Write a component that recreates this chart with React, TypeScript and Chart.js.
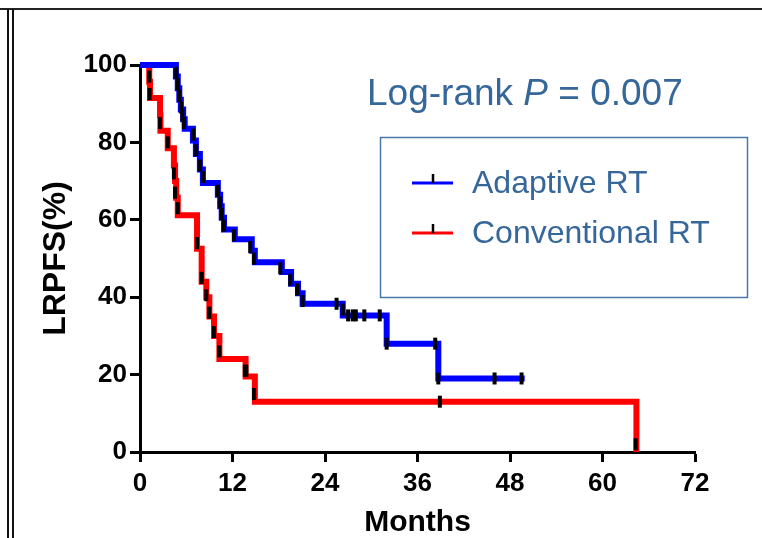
import React, { useEffect, useRef } from 'react';
import { Chart, registerables } from 'chart.js';

Chart.register(...registerables);

// ---- Data ----
const seriesNames = ['Adaptive RT', 'Conventional RT'];
const seriesColors = ['#0000FF', '#FF0000'];

// Kaplan-Meier steps: at each time the curve drops to the given level
const adaptiveTimes = [0, 4.66, 4.9, 5.1, 5.3, 5.6, 5.8, 6.87, 7.25, 7.77, 8.16, 10.1, 10.4, 10.6, 10.9, 12.3, 14.5, 14.9, 18.4, 19.6, 20.5, 21.1, 26.3, 32.0, 38.7, 49.9];
const adaptiveSurv = [100, 97, 94, 91, 88.5, 86, 83.5, 80.5, 77, 73, 69.5, 66.5, 63.5, 60.5, 57.5, 55, 52, 49, 46.5, 43.5, 41, 38.3, 35.3, 28, 19, 19];

const conventionalTimes = [0, 1.2, 1.3, 2.6, 2.65, 3.6, 4.4, 4.55, 4.7, 4.9, 7.4, 8.0, 8.6, 9.0, 9.6, 10.3, 13.7, 14.9, 64.4];
const conventionalSurv = [100, 95.7, 91.5, 87, 83, 78.5, 74, 70, 65.7, 61.2, 52.5, 44, 40, 35, 30, 24, 19.5, 13, 0];

// Tick (censor) marks
const adaptiveTickTimes = [4.7, 4.9, 5.1, 5.35, 5.5, 5.7, 6.9, 7.3, 7.8, 8.2, 10.1, 10.4, 10.6, 10.9, 12.2, 14.3, 14.8, 18.2, 19.5, 20.4, 21.1, 25.5, 26.3, 27.0, 27.6, 28.0, 29.1, 31.1, 32.0, 38.3, 38.7, 46.0, 49.5];
const adaptiveTickSurv = [98, 95, 92, 89, 87, 85, 82, 78, 74, 71, 67.5, 64.5, 61.5, 58.5, 56, 53, 50, 47.5, 44.5, 42, 39, 38.3, 36.8, 35.3, 35.3, 35.3, 35.3, 35.3, 28, 28, 19, 19, 19];

const conventionalTickTimes = [1.2, 1.25, 2.6, 3.6, 4.4, 4.55, 4.9, 7.4, 8.0, 8.6, 9.0, 9.6, 10.3, 13.6, 13.8, 14.8, 38.9, 64.3];
const conventionalTickSurv = [97, 92.5, 85, 80, 72, 67, 63, 54, 45, 40.5, 36, 31, 26, 21, 21, 15, 13, 2];

const xTickStep = 12;
const xMax = 72;
const yTickStep = 20;
const yMax = 100;

const xTitle = 'Months';
const yTitle = 'LRPFS(%)';
const pValueParts = ['Log-rank ', 'P', ' = 0.007'];

const FONT = '"Liberation Sans", Arial, Helvetica, sans-serif';
const TEXT_BLUE = '#35679A';
const BOX_BLUE = '#4A77A6';

const toPoints = (xs: number[], ys: number[]) => xs.map((x, i) => ({ x, y: ys[i] }));

const annotationPlugin = {
  id: 'kmAnnotations',
  afterDraw(chart: any) {
    const ctx = chart.ctx as CanvasRenderingContext2D;
    ctx.save();
    // p-value text
    ctx.fillStyle = TEXT_BLUE;
    ctx.textBaseline = 'alphabetic';
    ctx.textAlign = 'left';
    let x = 367;
    const y = 105;
    pValueParts.forEach((t, i) => {
      ctx.font = (i === 1 ? 'italic ' : '') + '37px ' + FONT;
      ctx.fillText(t, x, y);
      x += ctx.measureText(t).width;
    });

    // legend box
    ctx.strokeStyle = BOX_BLUE;
    ctx.lineWidth = 1.5;
    ctx.strokeRect(380.5, 137.5, 367, 160);

    const rows = [183, 233];
    seriesNames.forEach((name, i) => {
      const ly = rows[i];
      ctx.strokeStyle = seriesColors[i];
      ctx.lineWidth = 3;
      ctx.beginPath();
      ctx.moveTo(412, ly);
      ctx.lineTo(453, ly);
      ctx.stroke();
      ctx.strokeStyle = '#000';
      ctx.lineWidth = 2.5;
      ctx.beginPath();
      ctx.moveTo(433, ly - 9);
      ctx.lineTo(433, ly);
      ctx.stroke();
      ctx.fillStyle = TEXT_BLUE;
      ctx.font = '32px ' + FONT;
      ctx.fillText(name, 472, ly + 10);
    });
    ctx.restore();
  },
};

export default function App() {
  const canvasRef = useRef<HTMLCanvasElement | null>(null);

  useEffect(() => {
    if (!canvasRef.current) return;
    const tickStyle = {
      type: 'scatter',
      pointStyle: 'line',
      rotation: 90,
      radius: 6,
      borderColor: '#000',
      backgroundColor: '#000',
      borderWidth: 4,
      showLine: false,
      order: 0,
      clip: false,
    };
    const lineStyle = {
      borderWidth: 6,
      stepped: 'before',
      pointRadius: 0,
      fill: false,
      borderJoinStyle: 'miter',
      borderCapStyle: 'butt',
      clip: false,
    };
    const chart = new Chart(canvasRef.current, {
      type: 'line',
      data: {
        datasets: [
          { ...tickStyle, label: 'adaptive ticks', data: toPoints(adaptiveTickTimes, adaptiveTickSurv) } as any,
          { ...tickStyle, label: 'conventional ticks', data: toPoints(conventionalTickTimes, conventionalTickSurv) } as any,
          { ...lineStyle, label: seriesNames[0], data: toPoints(adaptiveTimes, adaptiveSurv), borderColor: seriesColors[0], order: 1 } as any,
          { ...lineStyle, label: seriesNames[1], data: toPoints(conventionalTimes, conventionalSurv), borderColor: seriesColors[1], order: 2 } as any,
        ],
      },
      options: {
        responsive: false,
        animation: false,
        layout: { padding: { top: 65, right: 67, bottom: 0, left: 0 } },
        plugins: {
          legend: { display: false },
          tooltip: { enabled: false },
        },
        scales: {
          x: {
            type: 'linear',
            min: 0,
            max: xMax,
            ticks: {
              stepSize: xTickStep,
              color: '#000',
              padding: 6,
              font: { family: FONT, size: 26, weight: 'bold' },
            },
            grid: { drawOnChartArea: false, drawTicks: true, tickLength: 10, tickWidth: 3, color: '#000' },
            border: { display: true, width: 3, color: '#000' },
            title: {
              display: true,
              text: xTitle,
              color: '#000',
              font: { family: FONT, size: 30, weight: 'bold', lineHeight: 1 },
              padding: { top: 0, bottom: 0 },
            },
            afterFit: (s: any) => { s.height = 86; },
          },
          y: {
            type: 'linear',
            min: 0,
            max: yMax,
            ticks: {
              stepSize: yTickStep,
              color: '#000',
              padding: 3,
              font: { family: FONT, size: 26, weight: 'bold' },
            },
            grid: { drawOnChartArea: false, drawTicks: true, tickLength: 10, tickWidth: 3, color: '#000' },
            border: { display: true, width: 3, color: '#000' },
            title: {
              display: true,
              text: yTitle,
              color: '#000',
              font: { family: FONT, size: 32, weight: 'bold', lineHeight: 1 },
              padding: { top: 40, bottom: 0 },
            },
            afterFit: (s: any) => { s.width = 140; },
          },
        },
      } as any,
      plugins: [annotationPlugin],
    });
    return () => chart.destroy();
  }, []);

  return (
    <div style={{ position: 'fixed', left: 0, top: 0, width: 762, height: 538, background: '#fff', overflow: 'hidden' }}>
      <canvas ref={canvasRef} width={762} height={538} style={{ position: 'absolute', left: 0, top: 0, width: 762, height: 538 }} />
      <div style={{ position: 'absolute', left: 0, top: 8, width: 762, height: 2, background: '#222' }} />
      <div style={{ position: 'absolute', left: 7, top: 9, width: 1.5, height: 529, background: '#111' }} />
      <div style={{ position: 'absolute', left: 12, top: 9, width: 2, height: 529, background: '#111' }} />
    </div>
  );
}
